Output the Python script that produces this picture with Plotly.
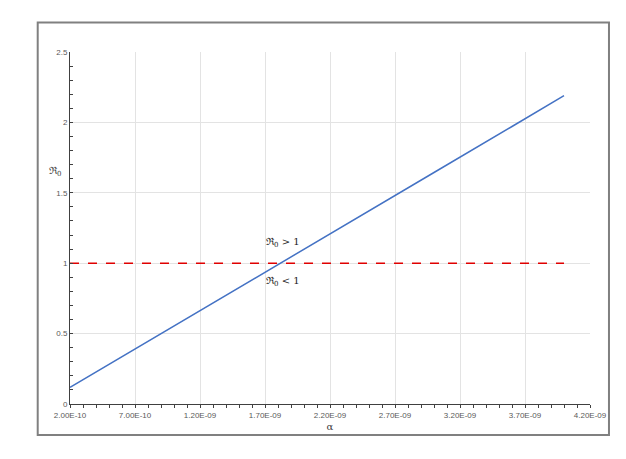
import plotly.graph_objects as go

# Data
alpha = [2.0e-10, 5.0e-10, 9.0e-10, 1.5e-9, 2.0e-9, 2.25e-9, 3.0e-9, 3.6e-9, 4.0e-9]
r0 = [0.118, 0.282, 0.500, 0.827, 1.099, 1.236, 1.644, 1.971, 2.190]

threshold_x = [2.0e-10, 4.0e-9]
threshold_y = [1.0, 1.0]

x_tickvals = [2.0e-10, 7.0e-10, 1.2e-9, 1.7e-9, 2.2e-9, 2.7e-9, 3.2e-9, 3.7e-9, 4.2e-9]
x_ticktext = ["2.00E-10", "7.00E-10", "1.20E-09", "1.70E-09", "2.20E-09",
              "2.70E-09", "3.20E-09", "3.70E-09", "4.20E-09"]
y_tickvals = [0, 0.5, 1, 1.5, 2, 2.5]
y_ticktext = ["0", "0.5", "1", "1.5", "2", "2.5"]

fig = go.Figure()
fig.add_trace(go.Scatter(x=alpha, y=r0, mode="lines",
                         line=dict(color="#4472C4", width=1.5), showlegend=False))
fig.add_trace(go.Scatter(x=threshold_x, y=threshold_y, mode="lines",
                         line=dict(color="#E00000", width=1.5, dash="dash"), showlegend=False))

tickfont = dict(family="Liberation Sans, Arial", size=8, color="#595959")

fig.update_layout(
    width=610, height=443,
    margin=dict(l=62, r=28, t=44, b=47),
    paper_bgcolor="white", plot_bgcolor="white",
    xaxis=dict(range=[2.0e-10, 4.2e-9], tickvals=x_tickvals, ticktext=x_ticktext,
               showgrid=True, gridcolor="#E3E3E3", gridwidth=1,
               showline=True, linecolor="#404040", linewidth=1,
               ticks="outside", ticklen=3, tickcolor="#404040",
               minor=dict(dtick=1e-10, tick0=2e-10, ticks="outside", ticklen=3,
                          tickcolor="#404040", showgrid=False),
               tickfont=tickfont, zeroline=False,
               title=dict(text="α", font=dict(family="DejaVu Serif", size=10, color="#404040"),
                          standoff=4)),
    yaxis=dict(range=[0, 2.5], tickvals=y_tickvals, ticktext=y_ticktext,
               showgrid=True, gridcolor="#E3E3E3", gridwidth=1,
               showline=True, linecolor="#404040", linewidth=1,
               ticks="inside", ticklen=3, tickcolor="#404040",
               minor=dict(dtick=0.1, tick0=0, ticks="inside", ticklen=3,
                          tickcolor="#404040", showgrid=False),
               tickfont=tickfont, zeroline=False),
    annotations=[
        dict(x=1.84e-9, y=1.149, xref="x", yref="y", showarrow=False,
             text="ℜ<sub>0</sub> > 1",
             font=dict(family="DejaVu Serif", size=10, color="#222222")),
        dict(x=1.84e-9, y=0.872, xref="x", yref="y", showarrow=False,
             text="ℜ<sub>0</sub> < 1",
             font=dict(family="DejaVu Serif", size=10, color="#222222")),
        dict(x=-0.044, y=0.66, xref="paper", yref="paper", showarrow=False,
             text="ℜ<sub>0</sub>",
             font=dict(family="DejaVu Serif", size=10, color="#404040")),
    ],
    shapes=[
        dict(type="rect", xref="paper", yref="paper",
             x0=-0.0621, x1=1.0365, y0=-0.0879, y1=1.0837,
             line=dict(color="#808080", width=2), fillcolor="rgba(0,0,0,0)", layer="below"),
    ],
)

fig.write_html("out.html")
